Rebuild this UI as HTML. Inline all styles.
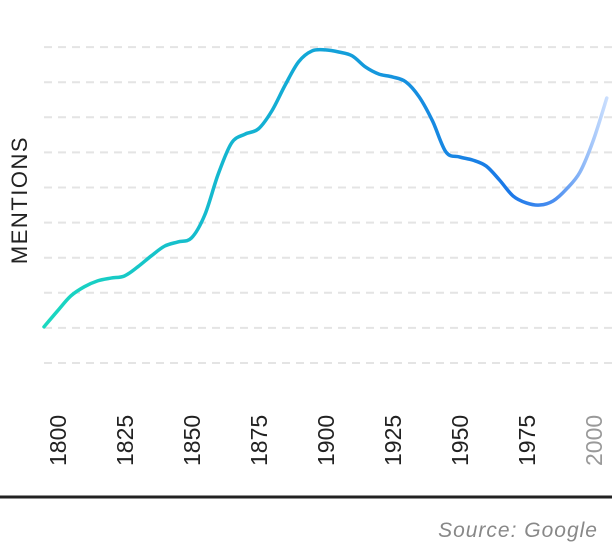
<!DOCTYPE html>
<html><head><meta charset="utf-8"><style>
body{margin:0;background:#fff;}
svg{display:block;font-family:"Liberation Sans",sans-serif;}
</style></head><body>
<svg id="chart" width="612" height="544" viewBox="0 0 612 544">
<defs>
<linearGradient id="lg" gradientUnits="userSpaceOnUse" x1="44" y1="0" x2="612" y2="0">
<stop offset="0" stop-color="#1ad8c0"/>
<stop offset="0.45" stop-color="#12a9d6"/>
<stop offset="0.82" stop-color="#1a78e8"/>
<stop offset="0.9" stop-color="#4d8ff0"/>
<stop offset="1" stop-color="#d6e6ff"/>
</linearGradient>
</defs>
<g id="grid"></g>
<path id="line" fill="none" stroke="url(#lg)" stroke-width="3.5" stroke-linecap="round"/>
<g id="xlabels"></g>
<text transform="translate(27,200) rotate(-90)" text-anchor="middle" font-size="22" letter-spacing="1.5" fill="#222">MENTIONS</text>
<line x1="0" y1="497" x2="612" y2="497" stroke="#222" stroke-width="3"/>
<text x="598" y="537" text-anchor="end" font-size="21" font-style="italic" letter-spacing="1" fill="#888">Source: Google</text>
</svg>
<script>
const years=[1800,1805,1810,1815,1820,1825,1830,1835,1840,1845,1850,1855,1860,1865,1870,1875,1880,1885,1890,1895,1900,1905,1910,1915,1920,1925,1930,1935,1940,1945,1950,1955,1960,1965,1970,1975,1980,1985,1990,1995,2000,2005,2010];
const mentions=[1.03,1.48,1.91,2.17,2.34,2.42,2.48,2.74,3.05,3.33,3.45,3.56,4.22,5.38,6.27,6.52,6.67,7.18,7.92,8.58,8.89,8.92,8.86,8.75,8.43,8.23,8.15,8.01,7.58,6.89,6.01,5.87,5.78,5.61,5.21,4.76,4.56,4.5,4.62,4.96,5.44,6.35,7.55];
const gridTicks=[0,1,2,3,4,5,6,7,8,9];
const xTicks=["1800","1825","1850","1875","1900","1925","1950","1975","2000"];
const ns="http://www.w3.org/2000/svg";
const X=y=>44+(y-1800)*2.68;
const Y=v=>363-v*35.1;
const grid=document.getElementById('grid');
gridTicks.forEach(t=>{
 const l=document.createElementNS(ns,'line');
 
 
 l.setAttribute('x1',44);l.setAttribute('x2',612);
 l.setAttribute('y1',Y(t));l.setAttribute('y2',Y(t));
 l.setAttribute('stroke','#e4e4e4');l.setAttribute('stroke-width','2');l.setAttribute('stroke-dasharray','8,6');
 grid.appendChild(l);
});
const pts=years.map((y,i)=>[X(y),Y(mentions[i])]);
let d='M'+pts[0][0]+','+pts[0][1];
for(let i=0;i<pts.length-1;i++){
 const p0=pts[Math.max(0,i-1)],p1=pts[i],p2=pts[i+1],p3=pts[Math.min(pts.length-1,i+2)];
 const c1=[p1[0]+(p2[0]-p0[0])/6,p1[1]+(p2[1]-p0[1])/6];
 const c2=[p2[0]-(p3[0]-p1[0])/6,p2[1]-(p3[1]-p1[1])/6];
 d+=' C'+c1[0]+','+c1[1]+' '+c2[0]+','+c2[1]+' '+p2[0]+','+p2[1];
}
document.getElementById('line').setAttribute('d',d);
const xl=document.getElementById('xlabels');
xTicks.forEach(t=>{
 const tx=document.createElementNS(ns,'text');
 
 
 const x=X(+t)+22;
 tx.setAttribute('transform','translate('+x+',466) rotate(-90)');
 tx.setAttribute('font-size','23');
 tx.setAttribute('fill',t==='2000'?'#999':'#222');
 tx.textContent=t;
 xl.appendChild(tx);
});
</script>
</body></html>
